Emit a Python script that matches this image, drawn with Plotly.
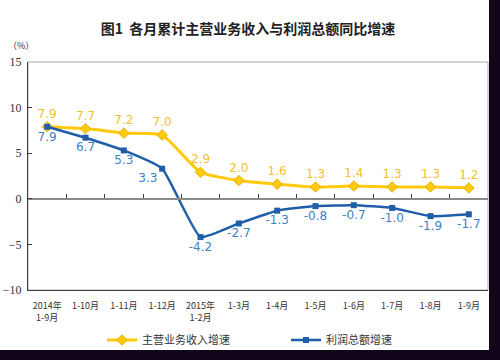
import plotly.graph_objects as go

categories = ["2014年<br>1-9月", "1-10月", "1-11月", "1-12月", "2015年<br>1-2月", "1-3月",
              "1-4月", "1-5月", "1-6月", "1-7月", "1-8月", "1-9月"]
revenue_growth = [7.9, 7.7, 7.2, 7.0, 2.9, 2.0, 1.6, 1.3, 1.4, 1.3, 1.3, 1.2]
profit_growth = [7.9, 6.7, 5.3, 3.3, -4.2, -2.7, -1.3, -0.8, -0.7, -1.0, -1.9, -1.7]
series_names = ["主营业务收入增速", "利润总额增速"]
y_ticks = [-10, -5, 0, 5, 10, 15]

idx = list(range(len(categories)))
boundaries = [i + 0.5 for i in idx[:-1]]

YELLOW = "#FFC90E"
YELLOW_TXT = "#F2C12E"
BLUE = "#1F5EA8"
BLUE_TXT = "#3F7FC6"
BG_DARK = "#12061a"

W, H = 500, 360
L, T, R, B = 28, 62, W - 488, H - 290
PW, PH = W - L - R, H - T - B

def px_x(p):
    return (p - L) / PW

def px_y(p):
    return (H - B - p) / PH

fig = go.Figure()
fig.add_trace(go.Scatter(
    x=idx, y=revenue_growth, name=series_names[0],
    mode="lines+markers+text",
    line=dict(color=YELLOW, width=3, shape="spline", smoothing=0.4),
    marker=dict(symbol="diamond", size=8, color=YELLOW, line=dict(color="#E8B000", width=1)),
    text=[f"{v:.1f}" for v in revenue_growth], textposition="top center",
    textfont=dict(family="DejaVu Sans", size=12, color=YELLOW_TXT),
    cliponaxis=False, hoverinfo="skip",
))
blue_pos = ["bottom center"] * len(profit_growth)
blue_pos[3] = "bottom left"
fig.add_trace(go.Scatter(
    x=idx, y=profit_growth, name=series_names[1], xaxis="x2",
    mode="lines+markers+text",
    line=dict(color=BLUE, width=2.5, shape="spline", smoothing=0.4),
    marker=dict(symbol="square", size=6, color=BLUE),
    text=[f"{v:.1f}" for v in profit_growth], textposition=blue_pos,
    textfont=dict(family="DejaVu Sans", size=12, color=BLUE_TXT),
    cliponaxis=False, hoverinfo="skip",
))

fig.update_layout(
    width=W, height=H,
    margin=dict(l=L, r=R, t=T, b=B, autoexpand=False),
    paper_bgcolor=BG_DARK, plot_bgcolor="white",
    showlegend=True, hovermode=False,
    title=dict(text="图1\u00a0\u00a0各月累计主营业务收入与利润总额同比增速",
               x=248 / W, xanchor="center", y=1 - 29 / H, yanchor="middle",
               font=dict(family="Noto Sans CJK SC", size=14, color="#222222", weight="bold")),
    xaxis=dict(range=[-0.5, 11.5], tickmode="array", tickvals=idx, ticktext=categories,
               automargin=False, ticklabelstandoff=7,
               showgrid=False, zeroline=False, showline=True, linecolor="#404040", linewidth=1,
               ticks="", tickfont=dict(family="Noto Sans CJK SC", size=9, color="#333333")),
    xaxis2=dict(overlaying="x", matches="x", anchor="free", position=0.4, side="bottom",
                automargin=False,
                showgrid=False, zeroline=False, showline=True, linecolor="#8a8a8a", linewidth=2,
                tickmode="array", tickvals=boundaries, ticks="inside", ticklen=4,
                tickcolor="#404040", tickwidth=1, showticklabels=False),
    yaxis=dict(range=[-10, 15], tickmode="array", tickvals=y_ticks, automargin=False,
               ticklabelstandoff=3,
               showgrid=False, zeroline=False, showline=True, linecolor="#404040", linewidth=1,
               ticks="inside", ticklen=4, tickcolor="#404040",
               tickfont=dict(family="Liberation Serif", size=12, color="#333333")),
    legend=dict(orientation="h", x=px_x(102), xanchor="left",
                y=px_y(340), yanchor="middle", itemwidth=30,
                entrywidth=139, bgcolor="rgba(0,0,0,0)",
                font=dict(family="Noto Sans CJK SC", size=11, color="#333333")),
    shapes=[
        dict(type="rect", xref="paper", yref="paper", x0=px_x(0), x1=px_x(489),
             y0=px_y(350), y1=px_y(0), fillcolor="white", line=dict(width=0), layer="below"),
        dict(type="rect", xref="paper", yref="paper", x0=0, x1=1, y0=0, y1=1,
             line=dict(color="#a8a8a8", width=1), layer="below"),
    ],
    annotations=[
        dict(text="（%）", xref="paper", yref="paper", x=px_x(6), xanchor="left",
             y=px_y(45), yanchor="middle", showarrow=False,
             font=dict(family="Noto Sans CJK SC", size=9, color="#333333")),
    ],
)

fig.write_html("out.html", config={"displayModeBar": False},
               post_script="document.body.style.margin='0px';")
